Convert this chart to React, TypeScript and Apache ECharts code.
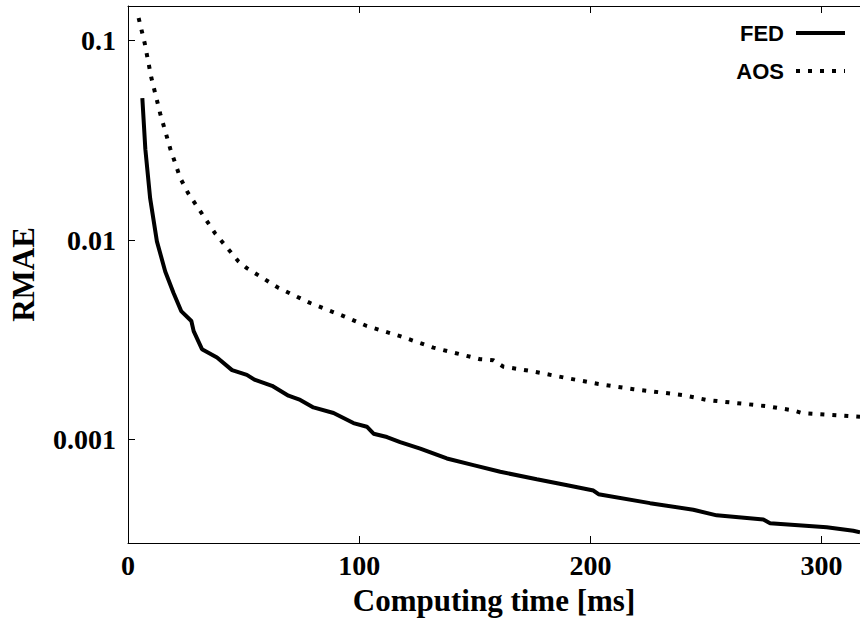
import React, { useEffect, useRef } from "react";
import * as echarts from "echarts";

// FED: computing time [ms] vs RMAE
const fedTime = [6.2, 7.5, 9.6, 12.5, 16.1, 19.7, 23.0, 27.4, 28.4, 32.0, 38.5, 45.0, 51.4, 55.0, 62.3, 69.4, 74.5, 80.2, 88.9, 97.5, 103.3, 106.2, 112.0, 117.7, 126.4, 137.9, 149.4, 161.0, 176.8, 190.0, 201.3, 203.5, 225.8, 244.5, 254.6, 274.8, 277.7, 302.2, 313.7, 316.6];
const fedRmae = [0.0516, 0.0286, 0.01614, 0.00986, 0.00697, 0.00543, 0.00441, 0.00393, 0.0035, 0.00284, 0.00258, 0.00223, 0.00211, 0.00199, 0.00186, 0.00166, 0.00158, 0.00145, 0.00136, 0.00121, 0.00116, 0.00107, 0.00103, 0.000972, 0.000901, 0.000804, 0.000745, 0.00069, 0.000632, 0.00059, 0.000555, 0.000532, 0.00048, 0.000445, 0.000417, 0.000397, 0.000381, 0.000363, 0.000349, 0.000343];

// AOS: computing time [ms] vs RMAE
const aosTime = [4.6, 7.2, 10.1, 14.0, 18.3, 22.6, 26.0, 29.8, 37.7, 47.8, 51.4, 65.1, 78.8, 93.2, 103.3, 117.7, 132.1, 152.3, 158.0, 162.4, 173.9, 188.3, 203.5, 218.6, 240.2, 250.3, 276.3, 287.8, 291.4, 312.3, 316.6];
const aosRmae = [0.13, 0.0974, 0.0652, 0.0428, 0.0287, 0.0205, 0.0172, 0.0148, 0.0108, 0.00782, 0.00724, 0.00576, 0.00484, 0.00416, 0.00371, 0.0033, 0.00289, 0.00253, 0.0025, 0.00232, 0.00221, 0.00205, 0.0019, 0.00179, 0.00167, 0.00158, 0.00147, 0.0014, 0.00136, 0.00131, 0.0013];

const seriesNames = ["FED", "AOS"];
const yTickValues = [0.001, 0.01, 0.1];
const yTickLabels = ["0.001", "0.01", "0.1"];
const xTickValues = [0, 100, 200, 300];
const xTickLabels = ["0", "100", "200", "300"];

const X_MIN = 0;
const X_MAX = 316.6;
const Y_MIN = 0.000303;
const Y_MAX = 0.1493;

const serif = "'Liberation Serif', 'Times New Roman', serif";
const sans = "'Liberation Sans', Arial, sans-serif";

export default function App() {
  const ref = useRef<HTMLDivElement>(null);

  useEffect(() => {
    if (!ref.current) return;
    const chart = echarts.init(ref.current, undefined, { renderer: "svg" });

    const xLabel = (v: number) => {
      const i = xTickValues.findIndex((t) => Math.abs(t - v) < 1e-6);
      return i >= 0 ? xTickLabels[i] : "";
    };
    const yLabel = (v: number) => {
      const i = yTickValues.findIndex((t) => Math.abs(Math.log10(t) - Math.log10(v)) < 1e-6);
      return i >= 0 ? yTickLabels[i] : "";
    };

    chart.setOption({
      animation: false,
      backgroundColor: "#ffffff",
      grid: { left: 128, right: 0, top: 6, bottom: 74, containLabel: false },
      legend: {
        data: seriesNames,
        orient: "vertical",
        align: "right",
        right: 8,
        top: 17,
        itemWidth: 49,
        itemHeight: 14,
        itemGap: 16,
        itemStyle: { opacity: 0 },
        lineStyle: { width: 4 },
        textStyle: {
          fontFamily: sans,
          fontWeight: "bold",
          fontSize: 22,
          color: "#000",
          padding: [0, 7, 0, 0],
        },
      },
      xAxis: [
        {
          type: "value",
          position: "bottom",
          min: X_MIN,
          max: X_MAX,
          interval: 100,
          axisLine: { show: true, lineStyle: { color: "#000", width: 1 } },
          axisTick: { show: true, inside: true, length: 7, lineStyle: { color: "#000" } },
          splitLine: { show: false },
          axisLabel: {
            show: true,
            margin: 8,
            formatter: xLabel,
            fontFamily: serif,
            fontWeight: "bold",
            fontSize: 28,
            color: "#000",
            showMaxLabel: false,
          },
          name: "Computing time [ms]",
          nameLocation: "middle",
          nameGap: 42,
          nameTextStyle: { fontFamily: serif, fontWeight: "bold", fontSize: 31, color: "#000" },
        },
        {
          type: "value",
          position: "top",
          min: X_MIN,
          max: X_MAX,
          interval: 100,
          axisLine: { show: true, onZero: false, lineStyle: { color: "#000", width: 1 } },
          axisTick: { show: true, inside: true, length: 7, lineStyle: { color: "#000" } },
          splitLine: { show: false },
          axisLabel: { show: false },
        },
      ],
      yAxis: [
        {
          type: "log",
          logBase: 10,
          position: "left",
          min: Y_MIN,
          max: Y_MAX,
          axisLine: { show: true, lineStyle: { color: "#000", width: 1 } },
          axisTick: { show: true, inside: true, length: 7, lineStyle: { color: "#000" } },
          minorTick: { show: false },
          splitLine: { show: false },
          axisLabel: {
            show: true,
            margin: 12,
            formatter: yLabel,
            fontFamily: serif,
            fontWeight: "bold",
            fontSize: 28,
            color: "#000",
            showMinLabel: false,
            showMaxLabel: false,
          },
          name: "RMAE",
          nameLocation: "middle",
          nameRotate: 90,
          nameGap: 89,
          nameTextStyle: { fontFamily: serif, fontWeight: "bold", fontSize: 31, color: "#000" },
        },
      ],
      series: [
        {
          name: seriesNames[0],
          type: "line",
          xAxisIndex: 0,
          yAxisIndex: 0,
          data: fedTime.map((t, i) => [t, fedRmae[i]]),
          symbol: "none",
          showSymbol: false,
          smooth: false,
          clip: true,
          lineStyle: { color: "#000", width: 4, type: "solid" },
          itemStyle: { color: "#000" },
        },
        {
          name: seriesNames[1],
          type: "line",
          xAxisIndex: 0,
          yAxisIndex: 0,
          data: aosTime.map((t, i) => [t, aosRmae[i]]),
          symbol: "none",
          showSymbol: false,
          smooth: false,
          clip: true,
          lineStyle: { color: "#000", width: 4, type: [4, 8], cap: "butt" },
          itemStyle: { color: "#000" },
        },
      ],
    });

    return () => chart.dispose();
  }, []);

  return (
    <div
      ref={ref}
      style={{ position: "fixed", left: 0, top: 0, width: 860, height: 621, background: "#fff" }}
    />
  );
}
